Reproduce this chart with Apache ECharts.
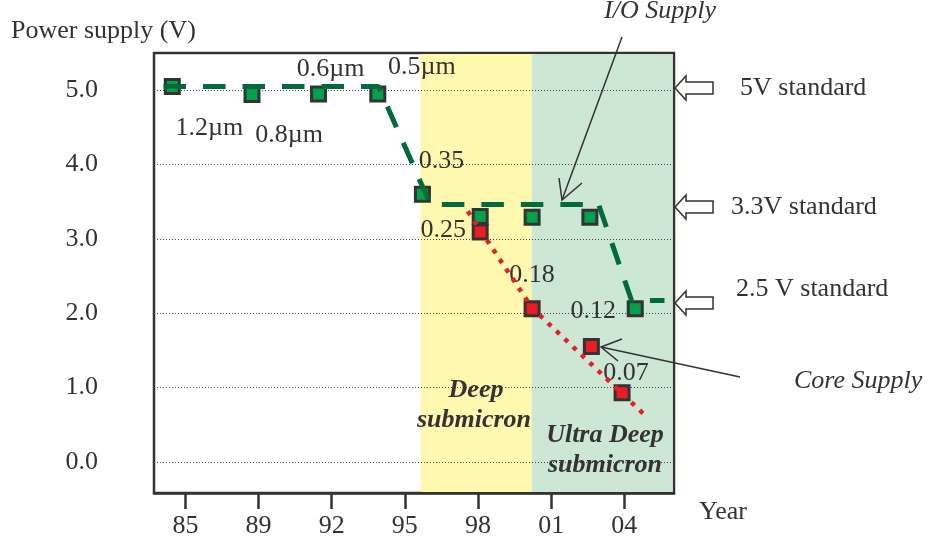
<!DOCTYPE html>
<html>
<head>
<meta charset="utf-8">
<script src="https://cdn.jsdelivr.net/npm/echarts@6/dist/echarts.min.js"></script>
<style>
html,body{margin:0;padding:0;background:#fff}
#main{width:927px;height:541px}
</style>
</head>
<body>
<div id="main"></div>
<script>
// tick labels
var yearLabels=['85','89','92','95','98','01','04'];
var yearTicks=[0,1,2,3,4,5,6];
var voltTicks=[0,1,2,3,4,5];
// I/O supply measured points and their node labels
var ioPoints=[[-0.18,5.05],[0.91,4.94],[1.82,4.95],[2.63,4.95],[3.24,3.60],[4.03,3.30],[4.74,3.29],[5.53,3.29],[6.15,2.06]];
var ioLabels=['1.2µm','0.8µm','0.6µm','0.5µm','0.35','','','',''];
// core supply measured points
var corePoints=[[4.03,3.09],[4.74,2.06],[5.55,1.55],[5.97,0.93]];
var coreLabels=['0.25','0.18','0.12','0.07'];
// trend lines
var ioTrend=[[-0.30,5.05],[2.64,5.05],[3.35,3.46],[5.65,3.46],[6.10,2.17],[6.55,2.17]];
var coreTrend=[[3.86,3.37],[4.74,2.07],[6.29,0.62]];
// shaded eras
var deepRange=[3.215,4.735];
var ultraRange=[4.735,6.66];

var ioOffsets=[[37,42],[37,41],[12,-25],[44,-27],[19,-33],[0,0],[0,0],[0,0],[0,0]];
var coreOffsets=[[-37,-2],[0,-34],[2,-35],[4,-19]];

var serif="'Liberation Serif','Times New Roman',serif";
var ink='#333';
var fs=26;

function withLabels(points,offsets){
	return points.map(function(p,i){
		return {value:p,label:{offset:offsets[i]}};
	});
}

var chart=echarts.init(document.getElementById('main'));

var option={
	animation:false,
	title:{
		text:'Power supply (V)',left:6,top:13,
		textStyle:{fontFamily:serif,fontSize:fs,fontWeight:'normal',color:ink}
	},
	grid:{left:154,right:253,top:53,bottom:48,show:true,borderColor:ink,borderWidth:2.5,backgroundColor:'transparent'},
	xAxis:{
		type:'value',min:-0.43,max:6.68,
		axisLine:{show:true,onZero:false,lineStyle:{color:ink,width:2.5}},
		axisTick:{show:true,customValues:yearTicks,length:16,lineStyle:{color:ink,width:2.5}},
		axisLabel:{customValues:yearTicks,margin:20,fontFamily:serif,fontSize:fs,color:ink,
			formatter:function(v){return yearLabels[Math.round(v)];}},
		splitLine:{show:false}
	},
	yAxis:{
		type:'value',min:-0.42,max:5.5,
		axisLine:{show:false},
		axisTick:{show:false},
		axisLabel:{customValues:voltTicks,margin:56,fontFamily:serif,fontSize:fs,color:ink,
			formatter:function(v){return v.toFixed(1);}},
		splitLine:{show:false}
	},
	series:[
		{
			type:'line',data:[],silent:true,
			markArea:{
				silent:true,z:1,
				data:[
					[{xAxis:deepRange[0],yAxis:-0.405,itemStyle:{color:'#fff8ae'}},{xAxis:deepRange[1],yAxis:5.485}],
					[{xAxis:ultraRange[0],yAxis:-0.405,itemStyle:{color:'#cde7d5'}},{xAxis:ultraRange[1],yAxis:5.485}]
				]
			},
			markLine:{
				silent:true,z:2,symbol:['none','none'],
				label:{show:false},
				lineStyle:{type:[1,2],color:'#444',width:1},
				data:voltTicks.map(function(v){return {yAxis:v};})
			}
		},
		{
			name:'I/O Supply',type:'scatter',z:3,
			data:withLabels(ioPoints,ioOffsets),
			symbol:'rect',symbolSize:14,
			itemStyle:{color:'#00a14b',borderColor:'#333',borderWidth:3,opacity:1},
			label:{show:true,position:'inside',fontFamily:serif,fontSize:fs,color:ink,
				formatter:function(p){return ioLabels[p.dataIndex];}}
		},
		{
			name:'Core Supply',type:'scatter',z:3,
			data:withLabels(corePoints,coreOffsets),
			symbol:'rect',symbolSize:14,
			itemStyle:{color:'#ed1c24',borderColor:'#333',borderWidth:3,opacity:1},
			label:{show:true,position:'inside',fontFamily:serif,fontSize:fs,color:ink,
				formatter:function(p){return coreLabels[p.dataIndex];}}
		},
		{
			type:'line',z:4,data:ioTrend,symbol:'none',silent:true,
			lineStyle:{color:'#006b3a',width:5,type:[22.5,17],cap:'butt'}
		},
		{
			type:'line',z:4,data:coreTrend,symbol:'none',silent:true,
			lineStyle:{color:'#ed1c24',width:4.5,type:[4.5,7],cap:'butt'}
		}
	],
	graphic:[]
};

function blockArrow(x,y){
	return {type:'polygon',z:10,
		shape:{points:[[x,y],[x+11,y-12],[x+11,y-6],[x+38,y-6],[x+38,y+6],[x+11,y+6],[x+11,y+12]]},
		style:{fill:'#fff',stroke:ink,lineWidth:1.5}};
}
function txt(s,x,y,align,style){
	return {type:'text',z:10,style:{text:s,x:x,y:y,textAlign:align,textVerticalAlign:'middle',
		font:(style||'')+' '+fs+'px '+serif,fill:ink}};
}
function line(points){
	return {type:'polyline',z:10,shape:{points:points},style:{stroke:ink,lineWidth:1.5,fill:null}};
}

option.graphic=[
	txt('Year',699,512,'left'),
	blockArrow(675,88),blockArrow(675,207),blockArrow(675,303),
	txt('5V standard',740,88,'left'),
	txt('3.3V standard',731,207,'left'),
	txt('2.5 V standard',736,289,'left'),
	txt('I/O Supply',604,11,'left','italic'),
	line([[622,37],[562,200]]),
	line([[559,178],[562,200],[582,183]]),
	txt('Core Supply',794,381,'left','italic'),
	line([[740,377],[601,347]]),
	line([[622,339],[601,347],[618,361]]),
	txt('Deep',476,390,'center','italic bold'),
	txt('submicron',474,420,'center','italic bold'),
	txt('Ultra Deep',605,435,'center','italic bold'),
	txt('submicron',605,465,'center','italic bold')
];

chart.setOption(option);
</script>
</body>
</html>
